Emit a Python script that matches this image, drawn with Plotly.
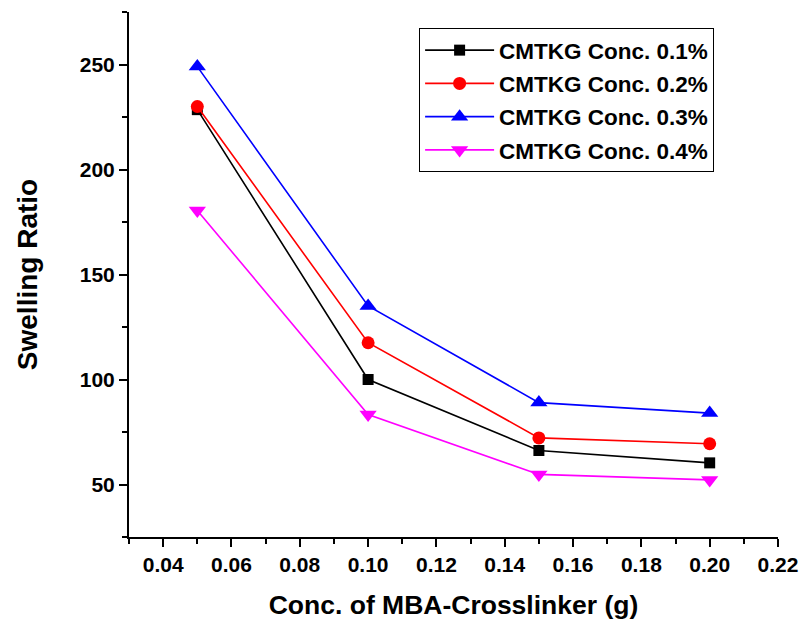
import plotly.graph_objects as go

# MBA crosslinker amount (g)
crosslinker = [0.05, 0.10, 0.15, 0.20]

# Swelling ratio for each CMTKG concentration
swell_01 = [228.5, 100.0, 66.2, 60.3]
swell_02 = [230.0, 117.5, 72.2, 69.4]
swell_03 = [249.0, 135.0, 89.0, 84.0]
swell_04 = [180.5, 83.3, 54.8, 52.2]

series_names = ["CMTKG Conc. 0.1%", "CMTKG Conc. 0.2%",
                "CMTKG Conc. 0.3%", "CMTKG Conc. 0.4%"]
series_values = [swell_01, swell_02, swell_03, swell_04]
colors = ["#000000", "#FF0000", "#0000FF", "#FF00FF"]
symbols = ["square", "circle", "triangle-up", "triangle-down"]
sizes = [11, 13, 15, 15]

FONT = "Arial, Liberation Sans, sans-serif"

fig = go.Figure()
for i, (name, vals, col, sym, sz) in enumerate(zip(series_names, series_values, colors, symbols, sizes)):
    fig.add_trace(go.Scatter(
        x=crosslinker, y=vals, name=name, mode="lines+markers",
        legendgroup=f"g{i}",
        line=dict(color=col, width=1.6),
        marker=dict(symbol=sym, size=sz, color=col, line=dict(width=0)),
    ))

axis_common = dict(
    showline=True, linecolor="black", linewidth=2,
    ticks="outside", ticklen=8, tickwidth=2, tickcolor="black",
    showgrid=False, zeroline=False, automargin=False,
    tickfont=dict(family=FONT, size=21, color="black", weight="bold"),
)

fig.update_xaxes(
    range=[0.03, 0.22], tick0=0.04, dtick=0.02, tickformat=".2f",
    minor=dict(ticks="outside", ticklen=5, tickwidth=2, tickcolor="black", dtick=0.01, tick0=0.03),
    title=dict(text="Conc. of MBA-Crosslinker (g)", standoff=25,
               font=dict(family=FONT, size=26.5, color="black", weight="bold")),
    **axis_common,
)
fig.update_yaxes(
    range=[25, 275], tick0=50, dtick=50,
    minor=dict(ticks="outside", ticklen=5, tickwidth=2, tickcolor="black", dtick=25, tick0=25),
    title=dict(text="Swelling Ratio", standoff=34,
               font=dict(family=FONT, size=28, color="black", weight="bold")),
    **axis_common,
)

fig.update_layout(
    width=802, height=620,
    margin=dict(l=129, r=24, t=12, b=83),
    paper_bgcolor="white", plot_bgcolor="white",
    showlegend=True,
    legend=dict(
        x=0.447, y=0.9695, xanchor="left", yanchor="top",
        bordercolor="black", borderwidth=1, bgcolor="white",
        itemwidth=69, tracegroupgap=1,
        font=dict(family=FONT, size=22.5, color="black", weight="bold"),
    ),
)

fig.write_html("out.html")
